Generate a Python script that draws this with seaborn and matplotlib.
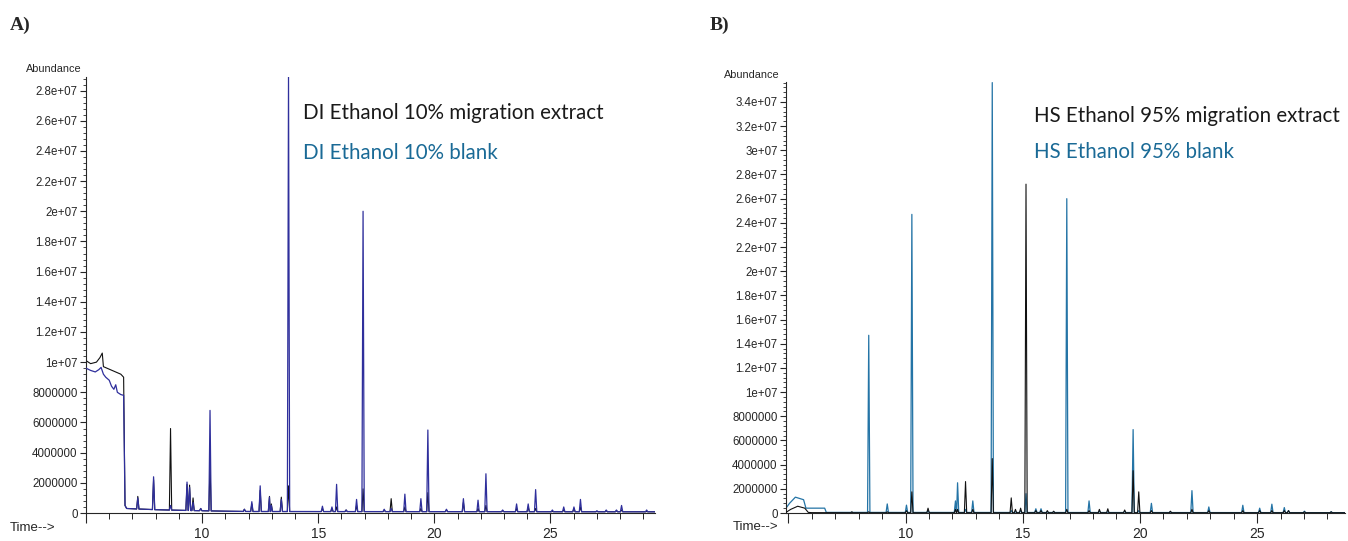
import numpy as np
import pandas as pd
import matplotlib
matplotlib.use("Agg")
import matplotlib.pyplot as plt
import seaborn as sns
from matplotlib.ticker import MultipleLocator, AutoMinorLocator, FuncFormatter

# ---- data (abundance in millions, time in min) ----
# Panel A: DI Ethanol 10%
a_ext_base_t = [5.0, 5.2, 5.45, 5.6, 5.7, 5.75, 5.9, 6.2, 6.5, 6.62, 6.68, 6.75, 7.0, 8.0, 9.0, 10.0, 11.0, 12.0, 29.5]
a_ext_base_v = [10.1, 9.9, 10.0, 10.3, 10.6, 9.7, 9.6, 9.4, 9.2, 9.0, 0.5, 0.3, 0.28, 0.22, 0.18, 0.15, 0.12, 0.1, 0.08]
a_blk_base_t = [5.0, 5.2, 5.4, 5.55, 5.65, 5.75, 5.85, 6.0, 6.1, 6.2, 6.28, 6.35, 6.5, 6.62, 6.68, 6.75, 7.0, 8.0, 9.0, 10.0, 11.0, 12.0, 29.5]
a_blk_base_v = [9.6, 9.45, 9.35, 9.5, 9.65, 9.2, 9.0, 8.8, 8.4, 8.2, 8.5, 8.0, 7.85, 7.8, 0.5, 0.3, 0.28, 0.22, 0.18, 0.15, 0.12, 0.1, 0.08]

a_peak_t = [7.23, 7.91, 8.64, 9.35, 9.46, 9.61, 9.94, 10.34, 11.82, 12.14, 12.50, 12.90, 12.98,
            13.41, 13.72, 15.18, 15.59, 15.79, 16.20, 16.65, 16.93, 17.84, 18.14, 18.73, 19.42,
            19.72, 20.52, 21.25, 21.88, 22.22, 22.94, 23.54, 24.04, 24.36, 25.08, 25.57, 26.01,
            26.29, 27.00, 27.40, 27.84, 28.06, 29.14]
a_ext_peak_h = [1.1, 2.2, 5.6, 1.9, 1.85, 1.0, 0.3, 3.2, 0.25, 0.6, 1.5, 1.1, 0.6,
                1.05, 1.8, 0.3, 0.3, 0.4, 0.2, 0.5, 1.6, 0.2, 0.95, 0.4, 0.3,
                1.35, 0.2, 0.7, 0.3, 0.5, 0.15, 0.3, 0.4, 0.3, 0.1, 0.2, 0.3,
                0.4, 0.1, 0.15, 0.15, 0.2, 0.1]
a_blk_peak_h = [1.0, 2.4, 0.5, 2.05, 1.7, 0.7, 0.3, 6.8, 0.25, 0.75, 1.8, 1.05, 0.5,
                0.9, 28.9, 0.45, 0.4, 1.9, 0.2, 0.9, 20.0, 0.25, 0.3, 1.25, 0.95,
                5.5, 0.25, 0.95, 0.85, 2.6, 0.2, 0.6, 0.6, 1.55, 0.2, 0.4, 0.4,
                0.9, 0.15, 0.2, 0.2, 0.5, 0.2]

# Panel B: HS Ethanol 95%
b_ext_base_t = [4.9, 5.1, 5.4, 5.7, 5.85, 6.0, 8.0, 29.0]
b_ext_base_v = [0.05, 0.3, 0.56, 0.4, 0.05, 0.03, 0.02, 0.02]
b_blk_base_t = [4.9, 5.05, 5.3, 5.65, 5.75, 6.55, 6.62, 7.0, 29.0]
b_blk_base_v = [0.4, 0.8, 1.31, 1.1, 0.4, 0.4, 0.05, 0.05, 0.03]

b_peak_t = [7.71, 8.43, 9.22, 10.04, 10.27, 10.96, 12.13, 12.22, 12.56, 12.87, 13.70, 14.51,
            14.69, 14.91, 15.14, 15.56, 15.78, 16.05, 16.32, 16.88, 17.83, 18.27, 18.63, 19.35,
            19.71, 19.95, 20.49, 21.30, 22.22, 22.94, 24.39, 25.11, 25.63, 26.16, 26.34, 27.02, 28.16]
b_ext_peak_h = [0.1, 0.1, 0.1, 0.2, 1.75, 0.4, 0.3, 0.3, 2.6, 0.3, 4.5, 1.25,
                0.3, 0.4, 27.2, 0.2, 0.2, 0.2, 0.15, 0.3, 0.2, 0.3, 0.35, 0.25,
                3.5, 1.75, 0.2, 0.15, 0.3, 0.2, 0.2, 0.2, 0.2, 0.2, 0.2, 0.1, 0.1]
b_blk_peak_h = [0.05, 14.7, 0.75, 0.65, 24.7, 0.2, 1.0, 2.5, 0.3, 1.0, 35.6, 0.2,
                0.1, 0.2, 1.6, 0.35, 0.35, 0.1, 0.1, 26.0, 1.0, 0.15, 0.1, 0.15,
                6.9, 0.2, 0.8, 0.1, 1.85, 0.5, 0.64, 0.4, 0.73, 0.45, 0.2, 0.15, 0.1]

labels_a = ["DI Ethanol 10% migration extract", "DI Ethanol 10% blank"]
labels_b = ["HS Ethanol 95% migration extract", "HS Ethanol 95% blank"]


def build_trace(base_t, base_v, peak_t, peak_h, hw=0.05):
    # baseline anchors plus a narrow triangle for every peak
    pts = []
    for t, v in zip(base_t, base_v):
        if not any(abs(t - p) < hw for p in peak_t):
            pts.append((t, v))
    for t, h in zip(peak_t, peak_h):
        b0 = np.interp(t - hw, base_t, base_v)
        b1 = np.interp(t + hw, base_t, base_v)
        if h <= max(b0, b1):
            continue
        pts += [(t - hw, b0), (t, h), (t + hw, b1)]
    pts.sort()
    df = pd.DataFrame(pts, columns=["time", "abundance"])
    df["abundance"] *= 1e6
    return df


def fmt_y(v, pos):
    if v >= 1e7:
        return "%g" % v
    return "%d" % v


sns.set_style("ticks")
plt.rcParams["font.family"] = ["Liberation Sans", "DejaVu Sans"]

W, H = 1348, 541
fig = plt.figure(figsize=(W / 100, H / 100), dpi=100)


def px(x, y):
    return x / W, 1 - y / H


panels = [
    dict(rect=[86 / W, 1 - 513 / H, 569 / W, 436 / H], xlim=(5.0, 29.5), ylim=(0, 28.9e6), ytop=28e6,
         ext=(a_ext_base_t, a_ext_base_v, a_peak_t, a_ext_peak_h),
         blk=(a_blk_base_t, a_blk_base_v, a_peak_t, a_blk_peak_h),
         blk_color="#2f2f9c", blank_on_top=True, labels=labels_a, tag="A)", tag_xy=(10, 25),
         abund_xy=(82, 69), time_xy=(10, 528), leg_xy=(303, 113, 153)),
    dict(rect=[786 / W, 1 - 513 / H, 559 / W, 431 / H], xlim=(4.9, 28.75), ylim=(0, 35.65e6), ytop=34e6,
         ext=(b_ext_base_t, b_ext_base_v, b_peak_t, b_ext_peak_h),
         blk=(b_blk_base_t, b_blk_base_v, b_peak_t, b_blk_peak_h),
         blk_color="#2474a6", blank_on_top=False, labels=labels_b, tag="B)", tag_xy=(710, 25),
         abund_xy=(780, 75), time_xy=(733, 527), leg_xy=(1034, 116, 152)),
]

for p in panels:
    ax = fig.add_axes(p["rect"])
    blk = build_trace(*p["blk"])
    ext = build_trace(*p["ext"])
    z_blk = 3 if p["blank_on_top"] else 2
    sns.lineplot(data=blk, x="time", y="abundance", ax=ax, color=p["blk_color"],
                 lw=0.9, sort=False, estimator=None, zorder=z_blk)
    sns.lineplot(data=ext, x="time", y="abundance", ax=ax, color="#111111",
                 lw=0.8, sort=False, estimator=None, zorder=5 - z_blk)
    ax.set_xlim(*p["xlim"])
    ax.set_ylim(*p["ylim"])
    ax.set_xlabel("")
    ax.set_ylabel("")
    sns.despine(ax=ax)
    ax.spines["left"].set_linewidth(0.8)
    ax.spines["bottom"].set_linewidth(0.8)

    ax.xaxis.set_major_locator(MultipleLocator(5))
    ax.xaxis.set_minor_locator(MultipleLocator(1))
    ax.xaxis.set_major_formatter(FuncFormatter(lambda v, pos: "" if v < 10 else "%d" % v))
    ax.set_yticks(np.arange(0, p["ytop"] + 1, 2e6))
    ax.yaxis.set_minor_locator(AutoMinorLocator(5))
    ax.yaxis.set_major_formatter(FuncFormatter(fmt_y))
    ax.tick_params(axis="x", which="major", length=7, width=0.8, labelsize=10, pad=3)
    ax.tick_params(axis="x", which="minor", length=4, width=0.7)
    ax.tick_params(axis="y", which="major", length=4, width=0.8, labelsize=8.3, pad=2)
    ax.tick_params(axis="y", which="minor", length=2, width=0.6)

    fig.text(*px(*p["tag_xy"]), p["tag"], ha="left", va="center", fontsize=14,
             fontweight="bold", family=["Liberation Serif"])
    fig.text(*px(*p["abund_xy"]), "Abundance", ha="right", va="center", fontsize=7.8)
    fig.text(*px(*p["time_xy"]), "Time-->", ha="left", va="center", fontsize=9.5)
    lx, ly1, ly2 = p["leg_xy"]
    fig.text(*px(lx, ly1), p["labels"][0], ha="left", va="center", fontsize=14.8,
             color="#1a1a1a", family=["Lato", "DejaVu Sans"])
    fig.text(*px(lx, ly2), p["labels"][1], ha="left", va="center", fontsize=14.8,
             color="#1a6a96", family=["Lato", "DejaVu Sans"])

fig.savefig("out.png", dpi=100)
